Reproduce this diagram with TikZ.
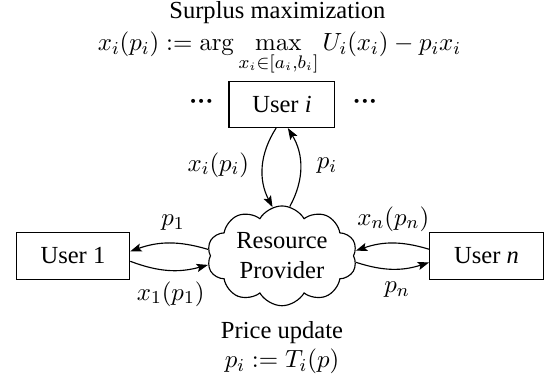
\documentclass[tikz,border=0pt]{standalone}
\usepackage[no-math]{fontspec}
\setmainfont{Liberation Serif}
\usepackage{amsmath}
\usetikzlibrary{positioning,shapes.symbols,arrows.meta}

\tikzset{
  user/.style={draw, rectangle, line width=0.5pt, minimum width=50pt,
    minimum height=20.7pt, inner sep=0pt},
  provider/.style={draw, cloud, cloud puffs=10, cloud puff arc=120,
    aspect=1.6, line width=0.5pt, minimum width=66pt, minimum height=40.5pt,
    inner sep=0pt, align=center},
  flow/.style={-{Stealth[length=5pt,width=3.6pt,inset=1pt]}, line width=0.5pt},
  caption/.style={anchor=base, inner sep=0.5pt},
}

\begin{document}
\begin{tikzpicture}[font=\fontsize{10.8pt}{13pt}\selectfont]
    \useasboundingbox (-124.1pt,-55.4pt) rectangle (118.4pt,112.6pt);

    \node [provider] (rp) at (0,0) {Resource\\Provider};
    \node [user, minimum width=46.6pt, minimum height=20.2pt, above=34pt of rp] (ui) {User \textit{i}};
    \node [user, left=35pt of rp] (u1) {User 1};
    \node [user, right=33pt of rp] (un) {User \textit{n}};
    \node [left=3pt of ui] (dotsl) {\textbf{···}};
    \node [right=4pt of ui] (dotsr) {\textbf{···}};

    % player i
    \draw [flow] ([xshift=-2.6pt]ui.south) to [bend right=30] (rp.101);
    \draw [flow] (rp.81) to [bend right=30] ([xshift=2.6pt]ui.south);
    % player 1
    \draw [flow] (rp.175) to [bend right=18] ([yshift=2pt]u1.east);
    \draw [flow] ([yshift=-2.4pt]u1.east) to [bend right=18] (rp.187);
    % player n
    \draw [flow] ([yshift=2.9pt]un.west) to [bend right=18] (rp.4);
    \draw [flow] (rp.-5) to [bend right=18] ([yshift=-2.9pt]un.west);

    \node (lxi) at (-28pt,40pt) {$x_i(p_i)$};
    \node (lpi) at (19.8pt,39.6pt) {$p_i$};
    \node (lp1) at (-48pt,14.5pt) {$p_1$};
    \node (lx1) at (-49pt,-16.7pt) {$x_1(p_1)$};
    \node (lxn) at (49pt,16.3pt) {$x_n(p_n)$};
    \node (lpn) at (50.6pt,-15pt) {$p_n$};

    \node [caption] (surplus) at (-2pt,104.5pt) {Surplus maximization};
    \node [caption] (argmax) at (-1.1pt,90.3pt)
      {$\displaystyle x_i(p_i) := \arg\max_{x_i\in[a_i,b_i]} U_i(x_i) - p_i x_i$};
    \node [caption] (update) at (0,-36.3pt) {Price update};
    \node [caption] (rule) at (0,-49.3pt) {$p_i := T_i(p)$};
\end{tikzpicture}
\end{document}
